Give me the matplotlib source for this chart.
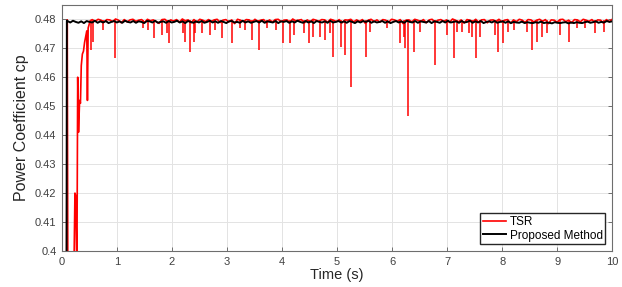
import numpy as np
import matplotlib
matplotlib.use("Agg")
import matplotlib.pyplot as plt

# ---------------- data ----------------
# TSR start-up transient
tsr_start_t = [0.0, 0.08, 0.095, 0.11, 0.20, 0.22, 0.235, 0.25, 0.27, 0.285, 0.30,
               0.32, 0.335, 0.35, 0.37, 0.39, 0.41, 0.43, 0.45, 0.462, 0.475, 0.49, 0.51, 0.53]
tsr_start_v = [0.35, 0.36, 0.4798, 0.36, 0.37, 0.398, 0.42, 0.419, 0.39, 0.460, 0.441,
               0.452, 0.451, 0.464, 0.468, 0.469, 0.472, 0.474, 0.476, 0.452, 0.477, 0.478, 0.4795, 0.4797]

# TSR steady level and fine ripple (units of 1e-4 around the level), t = 0.55 .. 10
tsr_level = 0.4797
tsr_ripple = [2, -4, 3, 0, -7, 2, 1, -5, 4, 0, -9, 2, -6, 1, 3, -4, 0, 2, -8, 3,
              -2, 1, -5, -11, 2, 3, -6, 1, -3, 2, -7, 4, -2, 1, -9, 2, -7, 3, 0, -5,
              2, -4, 1, 3, -8, 0, 2, -6, 1, -12, 3, 0, -5, 2, 1, -7, 3, -4, 0, 2,
              -9, 1, -6, 2, 3, -5, 0, 1, -8, 4, -2, 0, 2, -10, 1, -6, 3, 0, -4, 2,
              1, -7, 3, 0, -5, 2, -9, 1, 0, 3, -6, 1, -4, 2, -11, 0, 3, -5, 1, -7,
              2, 0, -8, 3, 1, -4, 2, -12, 0, 1, -6, 3, 0, -5, 2, -9, 1, 3, -7, 0,
              2, -4, 1, -8, 4, 0, -6, 1, -10, 2, 0, -5, 3, -7, 1, 2, -9, 0, 1, -4,
              3, -6, 0, 2, -11, 1, -5, 3, 0, -8, 2, 1, -6, 0, 3, -4, 2, -12, 1, 0,
              -7, 2, 3, -5, 0, -9, 2, 1, -6, 3, 0, -4, 2, -8, 1, 0, -10, 2, -5, 3]

# TSR dips (time, minimum value)
dip_t = [0.57, 0.74, 0.96, 1.48, 1.57, 1.68, 1.81, 1.90, 1.95, 2.19, 2.24, 2.33, 2.39,
         2.42, 2.54, 2.69, 2.78, 2.90, 3.09, 3.24, 3.33, 3.45, 3.58, 3.73, 3.89, 4.01,
         4.15, 4.21, 4.39, 4.48, 4.57, 4.69, 4.78, 4.87, 4.93, 5.07, 5.15, 5.25, 5.52,
         5.60, 5.90, 6.15, 6.21, 6.24, 6.28, 6.39, 6.51, 6.78, 6.99, 7.13, 7.18, 7.27,
         7.39, 7.45, 7.53, 7.59, 7.87, 7.93, 8.02, 8.11, 8.21, 8.45, 8.54, 8.63, 8.72,
         8.81, 9.05, 9.21, 9.36, 9.51, 9.69, 9.85, 0.53]
dip_v = [0.4722, 0.4763, 0.4665, 0.4771, 0.4763, 0.4734, 0.4745, 0.4752, 0.4717, 0.4752,
         0.4723, 0.4688, 0.4723, 0.4752, 0.4752, 0.4745, 0.4763, 0.4734, 0.4717, 0.4771,
         0.4763, 0.4728, 0.4694, 0.4771, 0.4763, 0.4717, 0.4717, 0.4745, 0.4752, 0.4717,
         0.4740, 0.4740, 0.4728, 0.4752, 0.4671, 0.4705, 0.4677, 0.4567, 0.4671, 0.4757,
         0.4771, 0.4717, 0.4740, 0.4700, 0.4467, 0.4688, 0.4757, 0.4642, 0.4745, 0.4665,
         0.4757, 0.4757, 0.4752, 0.4740, 0.4665, 0.4740, 0.4745, 0.4688, 0.4717, 0.4757,
         0.4763, 0.4757, 0.4694, 0.4723, 0.4740, 0.4752, 0.4745, 0.4723, 0.4771, 0.4771,
         0.4752, 0.4757, 0.4694]

# Proposed method start-up and steady ripple (units of 1e-4), t = 0.1 .. 10
prop_start_t = [0.0, 0.08, 0.088]
prop_start_v = [0.35, 0.36, 0.4796]
prop_level = 0.4791
prop_ripple = [3, -2, 4, 0, -3, 2, -4, 3, 0, -2, 4, -3, 2, -2, 3, -4, 0, 3, -2, 2,
               -3, 4, 0, -2, 3, -3, 2, 0, -4, 3, 2, -2, 4, -3, 0, 2, -3, 3, -2, 0,
               4, -2, 2, -4, 3, 0, -3, 2, -2, 3, -3, 0, 4, -2, 2, -3, 3, 0, -4, 2,
               3, -2, 0, -3, 4, -2, 2, -3, 0, 3, -2, 4, -3, 2, 0, -2, 3, -4, 2, 0,
               3, -3, 2, -2, 4, 0, -3, 3, -2, 2, -4, 3, 0, -2, 2, -3, 4, -2, 0, 3,
               -2, 2, -3, 3, 0, -4, 2, -2, 3, 0, 4, -3, 2, -2, 0, 3, -3, 2, -4, 0,
               3, -2, 2, -3, 4, 0, -2, 3, -3, 2, 0, -2, 3, -4, 2, 0, -3, 3, -2, 4,
               -2, 0, 2, -3, 3, -2, 0, 4, -3, 2, -2, 3, -4, 0, 2, -2, 3, -3, 0, 2,
               -3, 2, -4, 0, -2, -3, 1, -4, -1, -3, -4, -1, -3, 1, -4, -2, -3, -5, -1, -3,
               -4, -2, -1, -5, -2, -4, -1, -3, -4, -1, 1, -3, -1, 2, -3, 0, -2, 3, 0, 2]

xticks = list(range(0, 11))
yticks = [0.40, 0.41, 0.42, 0.43, 0.44, 0.45, 0.46, 0.47, 0.48]
ytick_labels = ["0.4", "0.41", "0.42", "0.43", "0.44", "0.45", "0.46", "0.47", "0.48"]

# ---------------- series assembly ----------------
tsr_t = np.concatenate([tsr_start_t, np.linspace(0.55, 10.0, len(tsr_ripple))])
tsr_v = np.concatenate([tsr_start_v, tsr_level + np.array(tsr_ripple) * 1e-4])
prop_t = np.concatenate([prop_start_t, np.linspace(0.1, 10.0, len(prop_ripple))])
prop_v = np.concatenate([prop_start_v, prop_level + np.array(prop_ripple) * 1e-4])

# ---------------- plot ----------------
plt.rcParams['font.family'] = ['Liberation Sans', 'DejaVu Sans']
fig = plt.figure(figsize=(6.22, 2.87), dpi=100)
ax = fig.add_axes([0.0997, 0.1254, 0.8846, 0.8578])

red_line, = ax.plot(tsr_t, tsr_v, color='#ff0000', lw=1.2, label='TSR', zorder=3)
ax.vlines(dip_t, dip_v, tsr_level, color='#ff0000', lw=1.1, zorder=3)
blk_line, = ax.plot(prop_t, prop_v, color='black', lw=1.4, label='Proposed Method', zorder=4)

ax.set_xlim(0, 10)
ax.set_ylim(0.40, 0.485)
ax.set_xticks(xticks)
ax.set_xticklabels([str(x) for x in xticks])
ax.set_yticks(yticks)
ax.set_yticklabels(ytick_labels)

ax.grid(True, color='#e3e3e3', lw=0.7)
ax.set_axisbelow(True)
for s in ax.spines.values():
    s.set_color('#6e6e6e')
    s.set_linewidth(0.8)
ax.tick_params(direction='in', length=3, width=0.7, color='#6e6e6e',
               labelsize=8, labelcolor='#404040', top=True, right=True, pad=4)

ax.set_xlabel('Time (s)', fontsize=10.5, color='#262626', labelpad=1)
ax.set_ylabel('Power Coefficient cp', fontsize=11.5, color='#262626', labelpad=4)

leg = ax.legend(handles=[red_line, blk_line], loc='lower right', fontsize=8.5,
                frameon=True, fancybox=False, edgecolor='#262626', framealpha=1,
                handlelength=2.0, handletextpad=0.3, borderpad=0.2,
                labelspacing=0.15, borderaxespad=0.6)
leg.get_frame().set_linewidth(1.0)

fig.savefig('out.png', dpi=100)
